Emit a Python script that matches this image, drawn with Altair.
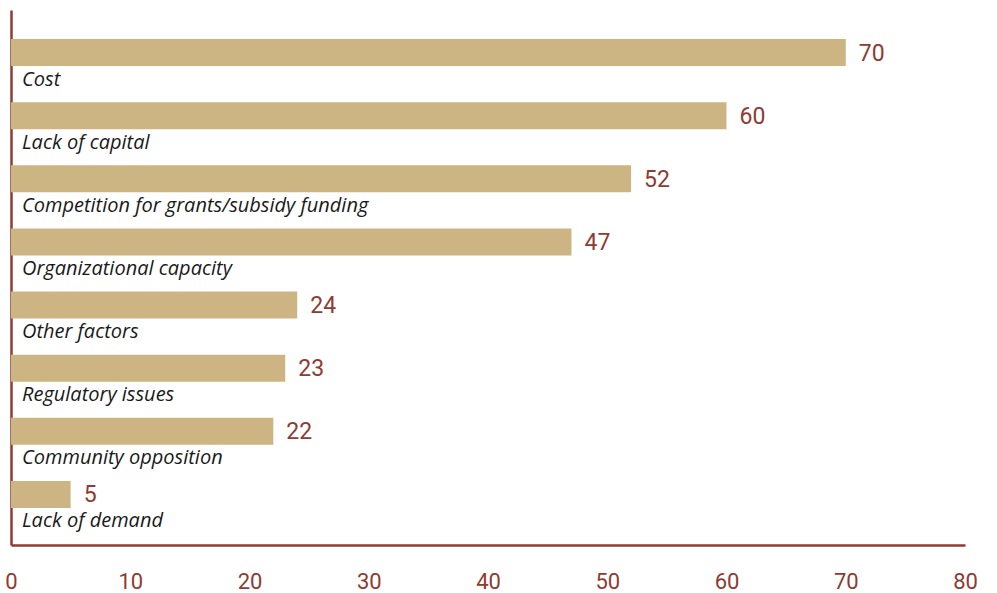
import altair as alt
import pandas as pd

categories = ["Cost", "Lack of capital", "Competition for grants/subsidy funding",
              "Organizational capacity", "Other factors", "Regulatory issues",
              "Community opposition", "Lack of demand"]
values = [70, 60, 52, 47, 24, 23, 22, 5]
x_ticks = [0, 10, 20, 30, 40, 50, 60, 70, 80]

df = pd.DataFrame({"category": categories, "value": values})

RED = "#8E3B33"
BAR = "#CDB583"

y_enc = alt.Y("category:N", sort=categories,
              scale=alt.Scale(paddingInner=0, paddingOuter=0.2376, align=0.8),
              axis=alt.Axis(labels=False, ticks=False, title=None, domainColor=RED,
                            domainWidth=2.5, grid=False))
x_enc = alt.X("value:Q", scale=alt.Scale(domain=[0, 80], nice=False),
              axis=alt.Axis(values=x_ticks, title=None, ticks=False, grid=False,
                            domainColor=RED, domainWidth=2.5, labelColor=RED,
                            labelFontSize=22, labelFont="Roboto", labelPadding=26,
                            labelFlush=False))

base = alt.Chart(df)

bars = base.mark_bar(color=BAR, size=27, yOffset=-13).encode(x=x_enc, y=y_enc)

vals = base.mark_text(align="left", baseline="middle", dx=13, yOffset=-12,
                      fontSize=23, font="Roboto", color=RED).encode(
    x="value:Q", y=alt.Y("category:N", sort=categories), text="value:Q")

labels = base.mark_text(align="left", baseline="middle", fontStyle="italic",
                        fontSize=20, font="Open Sans", color="#1a1a1a", yOffset=14).encode(
    x=alt.value(11), y=alt.Y("category:N", sort=categories), text="category:N")

chart = (bars + vals + labels).properties(
    width=954, height=535,
    autosize=alt.AutoSizeParams(type="none"),
    padding={"left": 11, "top": 10, "right": 32, "bottom": 48},
).configure_view(stroke=None)

chart.save("out.html", embed_options={"renderer": "svg", "actions": False})
